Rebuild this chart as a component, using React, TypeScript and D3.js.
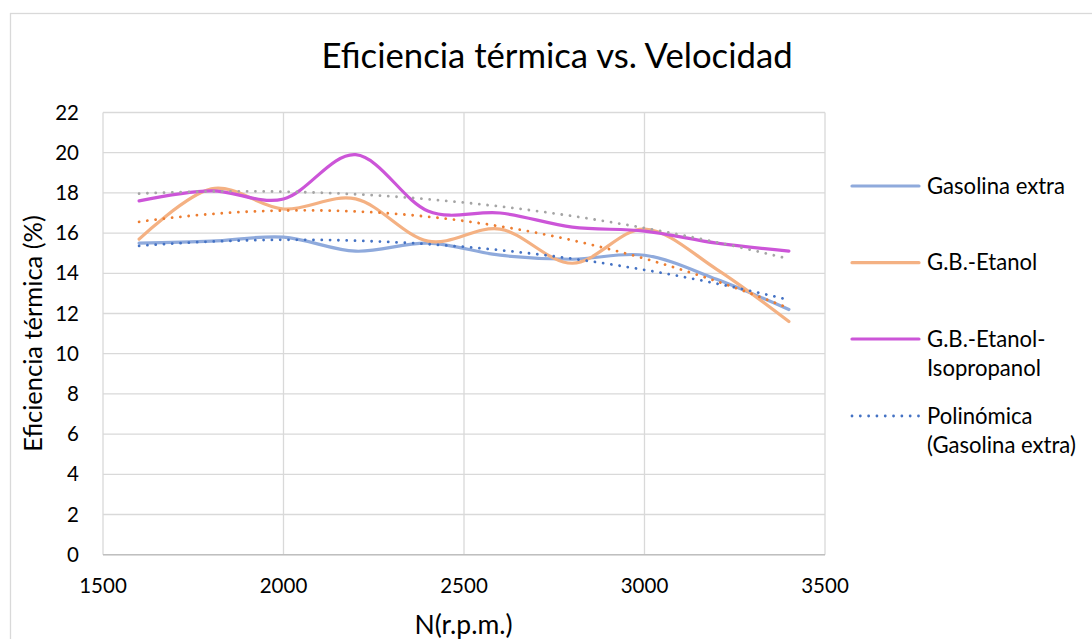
import React from "react";
import * as d3 from "d3";

// Engine speed (rpm) and thermal efficiency (%) for each fuel blend
const rpm = [1600, 1800, 2000, 2200, 2400, 2600, 2800, 3000, 3200, 3400];
const gasolinaExtra = [15.5, 15.6, 15.8, 15.1, 15.5, 14.9, 14.7, 14.9, 13.7, 12.2];
const gbEtanol = [15.7, 18.2, 17.2, 17.7, 15.6, 16.2, 14.5, 16.2, 14.2, 11.6];
const gbEtanolIsopropanol = [17.6, 18.1, 17.7, 19.9, 17.1, 17.0, 16.3, 16.1, 15.5, 15.1];

const xTicks = [1500, 2000, 2500, 3000, 3500];
const yTicks = [0, 2, 4, 6, 8, 10, 12, 14, 16, 18, 20, 22];

const title = "Eficiencia térmica vs. Velocidad";
const xTitle = "N(r.p.m.)";
const yTitle = "Eficiencia térmica (%)";

const FONT = "Lato, 'Open Sans', sans-serif";

// Least-squares polynomial fit (like a spreadsheet "polynomial" trendline)
function polyfit(xs: number[], ys: number[], order: number) {
  const x0 = d3.mean(xs)!;
  const s = 100;
  const n = order + 1;
  const A: number[][] = Array.from({ length: n }, () => new Array(n + 1).fill(0));
  xs.forEach((xv, k) => {
    const t = (xv - x0) / s;
    for (let i = 0; i < n; i++) {
      for (let j = 0; j < n; j++) A[i][j] += Math.pow(t, i + j);
      A[i][n] += Math.pow(t, i) * ys[k];
    }
  });
  for (let i = 0; i < n; i++) {
    let p = i;
    for (let r = i + 1; r < n; r++) if (Math.abs(A[r][i]) > Math.abs(A[p][i])) p = r;
    [A[i], A[p]] = [A[p], A[i]];
    for (let r = 0; r < n; r++) {
      if (r === i) continue;
      const f = A[r][i] / A[i][i];
      for (let c = i; c <= n; c++) A[r][c] -= f * A[i][c];
    }
  }
  const coef = A.map((row, i) => row[n] / row[i]);
  return (xv: number) => {
    const t = (xv - x0) / s;
    return coef.reduce((acc, c, i) => acc + c * Math.pow(t, i), 0);
  };
}

const series = [
  { name: "Gasolina extra", values: gasolinaExtra, color: "#8FAADC", trend: "#4472C4" },
  { name: "G.B.-Etanol", values: gbEtanol, color: "#F4B183", trend: "#ED7D31" },
  { name: "G.B.-Etanol-Isopropanol", values: gbEtanolIsopropanol, color: "#CC55D8", trend: "#A5A5A5" },
];

const legendItems = [
  { lines: ["Gasolina extra"], color: "#8FAADC", dotted: false },
  { lines: ["G.B.-Etanol"], color: "#F4B183", dotted: false },
  { lines: ["G.B.-Etanol-", "Isopropanol"], color: "#CC55D8", dotted: false },
  { lines: ["Polinómica", "(Gasolina extra)"], color: "#4472C4", dotted: true },
];

export default function App() {
  const W = 1092;
  const H = 639;
  const x = d3.scaleLinear().domain([1500, 3500]).range([103, 825]);
  const y = d3.scaleLinear().domain([0, 22]).range([554.7, 112.5]);

  const smooth = d3
    .line<[number, number]>()
    .x((d) => x(d[0]))
    .y((d) => y(d[1]))
    .curve(d3.curveCardinal.tension(0));

  const straight = d3
    .line<[number, number]>()
    .x((d) => x(d[0]))
    .y((d) => y(d[1]));

  const xMin = d3.min(rpm)!;
  const xMax = d3.max(rpm)!;
  const samples = d3.range(0, 121).map((i) => xMin + ((xMax - xMin) * i) / 120);

  const dotted = { strokeWidth: 2.8, strokeLinecap: "round" as const, strokeDasharray: "0.01 8.3" };

  return (
    <svg
      width={W}
      height={H}
      style={{ position: "absolute", left: 0, top: 0, background: "#fff" }}
      fontFamily={FONT}
    >
      <rect x={0} y={0} width={W} height={H} fill="#fff" />
      <rect x={10.5} y={13.5} width={W + 20} height={H + 20} fill="none" stroke="#D9D9D9" strokeWidth={1.3} />

      <text x={557} y={67.5} textAnchor="middle" fontSize={34.7} fill="#000">
        {title}
      </text>

      {/* grid */}
      {yTicks.map((t) => (
        <line key={"gy" + t} x1={x(1500)} x2={x(3500)} y1={y(t)} y2={y(t)} stroke="#D9D9D9" strokeWidth={1.3} />
      ))}
      {xTicks.map((t) => (
        <line key={"gx" + t} x1={x(t)} x2={x(t)} y1={y(0)} y2={y(22)} stroke="#D9D9D9" strokeWidth={1.3} />
      ))}
      <line x1={x(1500)} x2={x(3500)} y1={y(0)} y2={y(0)} stroke="#BFBFBF" strokeWidth={1.5} />

      {/* tick labels */}
      {yTicks.map((t) => (
        <text key={"ty" + t} x={79} y={y(t) + 7} textAnchor="end" fontSize={20.5} fill="#000">
          {t}
        </text>
      ))}
      {xTicks.map((t) => (
        <text key={"tx" + t} x={x(t)} y={593} textAnchor="middle" fontSize={20.5} fill="#000">
          {t}
        </text>
      ))}

      <text x={463.5} y={634} textAnchor="middle" fontSize={26.5} fill="#000">
        {xTitle}
      </text>
      <text transform="translate(42,333.5) rotate(-90)" textAnchor="middle" fontSize={25.5} fill="#000">
        {yTitle}
      </text>

      {/* data series */}
      {series.map((s) => (
        <path
          key={s.name}
          d={smooth(rpm.map((r, i) => [r, s.values[i]] as [number, number])) || ""}
          fill="none"
          stroke={s.color}
          strokeWidth={3.2}
          strokeLinejoin="round"
          strokeLinecap="round"
        />
      ))}

      {/* second-order polynomial trendlines */}
      {series.map((s) => {
        const f = polyfit(rpm, s.values, 2);
        return (
          <path
            key={"trend" + s.name}
            d={straight(samples.map((r) => [r, f(r)] as [number, number])) || ""}
            fill="none"
            stroke={s.trend}
            {...dotted}
          />
        );
      })}

      {/* legend */}
      {legendItems.map((item, i) => {
        const ly = [186, 262.7, 339, 416][i];
        return (
          <g key={"lg" + i}>
            <line
              x1={852}
              x2={919}
              y1={ly}
              y2={ly}
              stroke={item.color}
              strokeWidth={item.dotted ? 2.8 : 3.2}
              strokeLinecap="round"
              strokeDasharray={item.dotted ? "0.01 8.3" : undefined}
            />
            {item.lines.map((ln, j) => (
              <text key={j} x={927} y={ly + 7.5 + j * 29} fontSize={22.1} fill="#000">
                {ln}
              </text>
            ))}
          </g>
        );
      })}
    </svg>
  );
}
